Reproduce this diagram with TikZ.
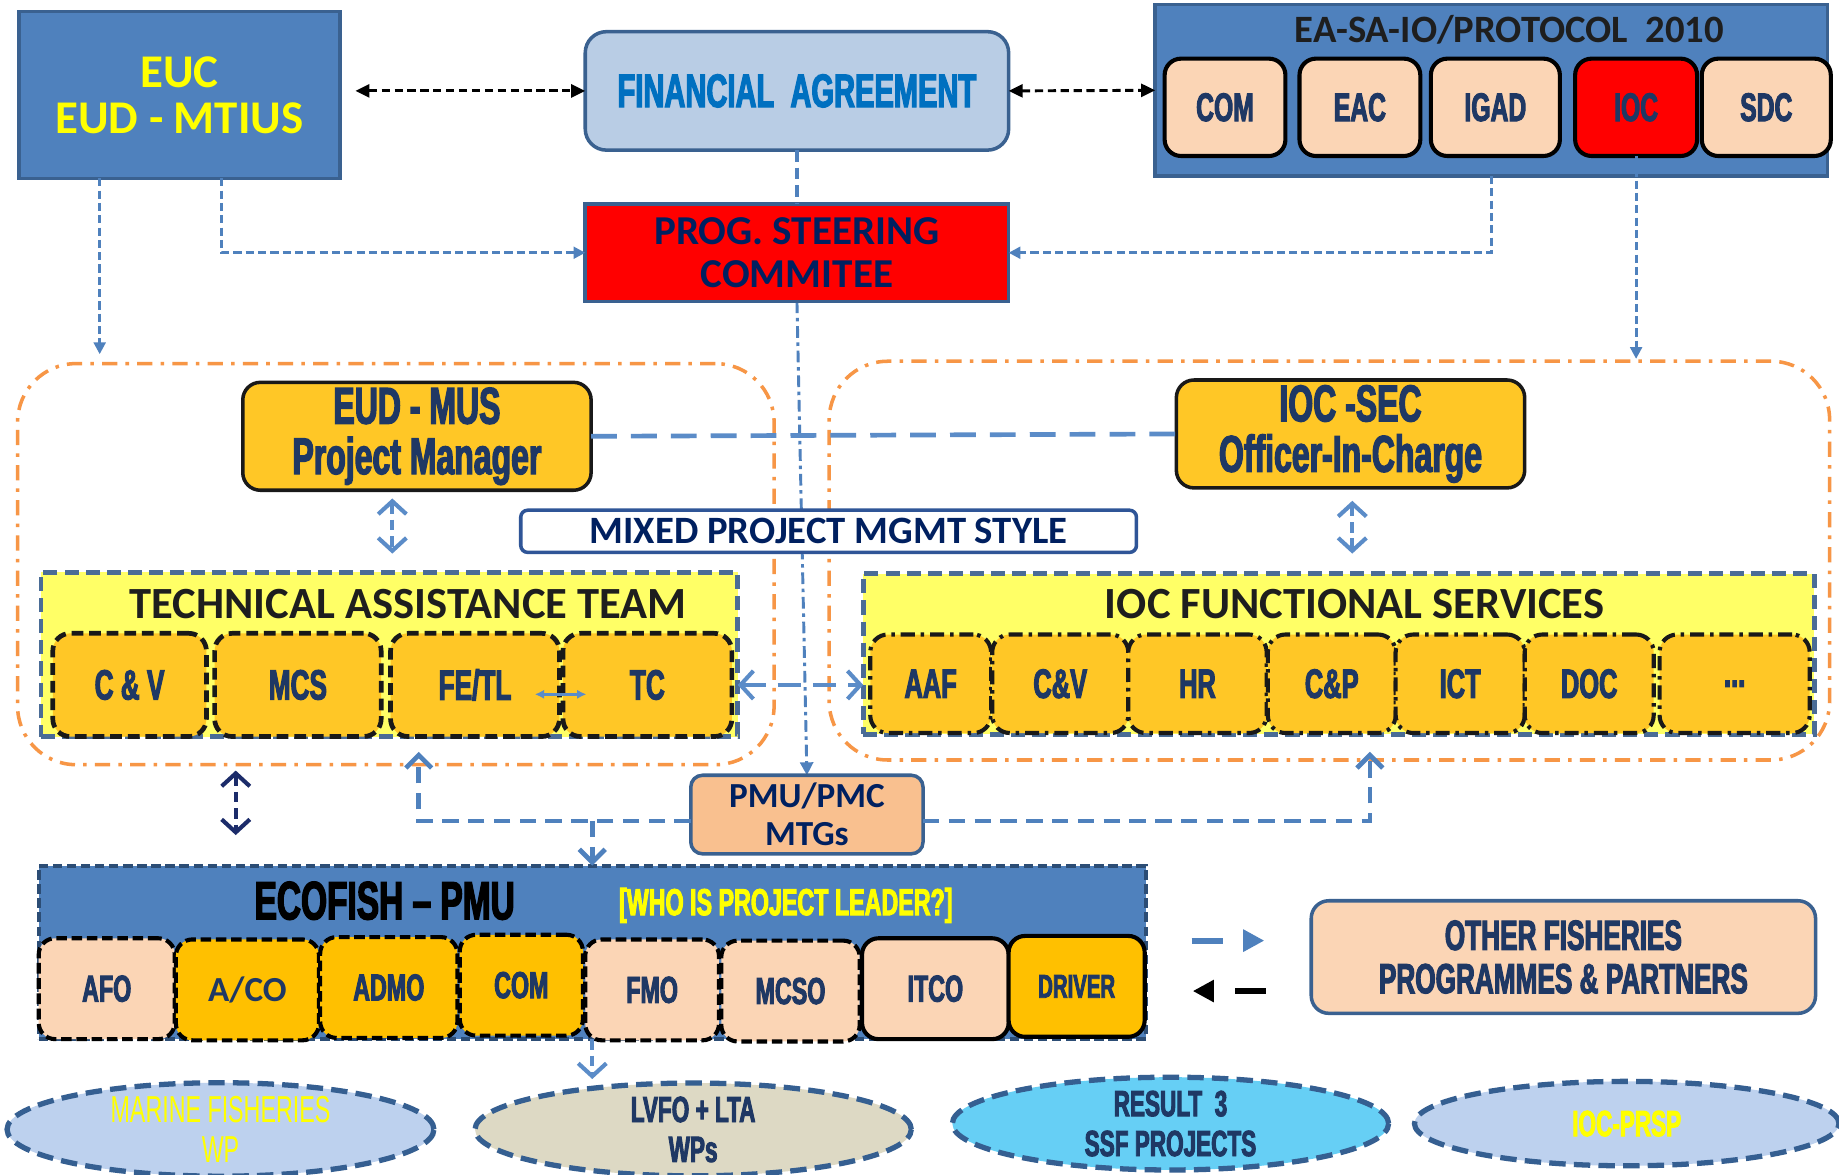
\documentclass[tikz,border=0pt]{standalone}
\usepackage{fontspec}
\usetikzlibrary{arrows.meta,calc,shapes.geometric}
\setmainfont{Carlito}
\newfontfamily\agf[FakeStretch=0.62,FakeBold=2.5,UprightFont={* Bold},Ligatures=TeX]{Liberation Sans}
\newfontfamily\agflight[FakeStretch=0.62,Ligatures=TeX]{Liberation Sans}
\newcommand\myfs[2]{\fontsize{#1}{#2}\selectfont}
\definecolor{boxblue}{HTML}{4F81BD}
\definecolor{bordblue}{HTML}{3A6190}
\definecolor{fafill}{HTML}{B9CDE5}
\definecolor{fatext}{HTML}{0070C0}
\definecolor{peach}{HTML}{FBD5B5}
\definecolor{gold}{HTML}{FFC726}
\definecolor{amber}{HTML}{FFC000}
\definecolor{lemon}{HTML}{FFFF66}
\definecolor{navy}{HTML}{1F3864}
\definecolor{dnavy}{HTML}{002060}
\definecolor{lineblue}{HTML}{4F81BD}
\definecolor{lightarr}{HTML}{5B8CC8}
\definecolor{orangedd}{HTML}{F79646}
\definecolor{pmcfill}{HTML}{F9C08F}
\definecolor{cyanfill}{HTML}{66CFF5}
\definecolor{beige}{HTML}{DDD9C4}
\definecolor{lblue}{HTML}{BDD1EE}
\definecolor{tatborder}{HTML}{4A6C96}
\definecolor{ellborder}{HTML}{355F91}
\definecolor{ecoborder}{HTML}{2C4D75}
\definecolor{mixborder}{HTML}{2F5597}
\definecolor{darkarr}{HTML}{1C2C6A}
\definecolor{yel}{HTML}{FFFF00}
\definecolor{titlegray}{HTML}{1E1E1E}
\pgfdeclarelayer{back}
\pgfdeclarelayer{mid}
\pgfsetlayers{back,mid,main}
\begin{document}
\begin{tikzpicture}[x=1pt,y=-1pt,
  every node/.style={inner sep=0pt, outer sep=0pt, align=center},
  ctext/.style 2 args={font=\agf\myfs{#1}{#2}},
  ltext/.style 2 args={font=\agflight\myfs{#1}{#2}},
  btext/.style 2 args={font=\bfseries\myfs{#1}{#2}},
  bluebox/.style={draw=bordblue, fill=boxblue, line width=3pt},
  fabox/.style={draw=bordblue, fill=fafill, line width=3pt, rounded corners=18pt},
  pscbox/.style={draw=bordblue, fill=red, line width=3pt},
  eainner/.style={draw=black, line width=3.5pt, rounded corners=14pt, minimum height=83pt, ctext={34}{34}, text=navy},
  goldbox/.style={draw=black!90, fill=gold, line width=3pt, rounded corners=15pt, minimum width=297pt, minimum height=92pt, ctext={44}{43}, text=navy},
  mixbox/.style={draw=mixborder, fill=white, line width=3pt, rounded corners=6pt},
  tatbox/.style={draw=tatborder, fill=lemon, line width=4pt, dash pattern=on 12pt off 6pt},
  tatinner/.style={draw=black!90, fill=gold, line width=4pt, dash pattern=on 10pt off 5pt, rounded corners=15pt, minimum height=88pt, ctext={36}{36}, text=navy},
  ifsinner/.style={draw=black!90, fill=gold, line width=3.5pt, dash pattern=on 12pt off 5pt on 3pt off 5pt, rounded corners=15pt, minimum height=84pt, ctext={35}{35}, text=navy},
  pmcbox/.style={draw=bordblue, fill=pmcfill, line width=3pt, rounded corners=10pt},
  ecobox/.style={draw=ecoborder, fill=boxblue, line width=3.5pt, dash pattern=on 8pt off 4pt},
  ecoinner/.style={draw=black, line width=3.5pt, dash pattern=on 9pt off 4pt, rounded corners=14pt, minimum height=86pt, ctext={32}{32}, text=navy},
  ecosolid/.style={draw=black, line width=3.5pt, rounded corners=14pt, minimum height=86pt, ctext={32}{32}, text=navy},
  ell/.style={ellipse, draw=ellborder, line width=4.5pt, dash pattern=on 14pt off 7pt, ctext={31}{34}},
  otherbox/.style={draw=bordblue, fill=peach, line width=3pt, rounded corners=15pt},
  cont/.style={draw=orangedd, line width=3pt, rounded corners=50pt, dash pattern=on 13pt off 7pt on 3pt off 7pt},
  blkarrow/.style={draw=black, line width=2.5pt, dash pattern=on 7pt off 4pt, <->, >={Triangle[length=12pt,width=11pt]}},
  thinline/.style={draw=lineblue, line width=2.4pt, dash pattern=on 7pt off 3.5pt},
  thinarr/.style={thinline, ->, >={Triangle[length=10pt,width=10pt]}},
  fathick/.style={draw=lineblue, line width=4pt, dash pattern=on 10pt off 5pt},
  mgline/.style={draw=lightarr, line width=4pt, dash pattern=on 22pt off 12pt},
  chev/.style={draw=lightarr, line width=3.5pt, dash pattern=on 9pt off 5pt, >={Straight Barb[length=11pt,width=24pt]}},
  navychev/.style={draw=darkarr, line width=3.5pt, dash pattern=on 9pt off 5pt, <->, >={Straight Barb[length=11pt,width=24pt]}},
  pmline/.style={draw=lineblue, line width=4pt, dash pattern=on 14pt off 8pt, >={Straight Barb[length=11pt,width=22pt]}},
  central/.style={draw=lineblue, line width=2.5pt, dash pattern=on 10pt off 4pt on 3pt off 4pt, ->, >={Triangle[length=11pt,width=11pt]}}
]
\useasboundingbox (0,0) rectangle (1568,1001);
\begin{pgfonlayer}{back}
  \fill[white] (0,0) rectangle (1568,1001);
  \node[cont, minimum width=645pt, minimum height=342pt] (lcont) at (337.5,481) {};
  \node[cont, minimum width=853pt, minimum height=340pt] (rcont) at (1133.5,478) {};
\end{pgfonlayer}

% top row
\node[bluebox, minimum width=274pt, minimum height=142pt, btext={40}{39}, text=yel] (euc) at (153,81) {EUC\\EUD - MTIUS};
\node[fabox, minimum width=361pt, minimum height=101pt, ctext={40}{40}, text=fatext] (fa) at (679.5,77.5) {FINANCIAL\ \ AGREEMENT};
\node[pscbox, minimum width=361pt, minimum height=83pt, btext={35}{36}, text=dnavy] (psc) at (679.5,215.5) {PROG. STEERING\\COMMITEE};
\node[bluebox, minimum width=573pt, minimum height=146pt] (easa) at (1271.5,77) {};
\node[btext={33}{33}, text=titlegray] (eat) at (1287,25) {EA-SA-IO/PROTOCOL\ \ 2010};
\node[eainner, fill=peach, minimum width=103pt] (com1) at (1044.5,91.5) {COM};
\node[eainner, fill=peach, minimum width=103pt] (eac) at (1159.5,91.5) {EAC};
\node[eainner, fill=peach, minimum width=110pt] (igad) at (1275,91.5) {IGAD};
\node[eainner, fill=red, minimum width=104pt] (ioc) at (1395,91.5) {IOC};
\node[eainner, fill=peach, minimum width=110pt] (sdc) at (1506,91.5) {SDC};

% managers
\node[goldbox] (eudmus) at (355.5,372) {EUD - MUS\\Project Manager};
\node[goldbox] (iocsec) at (1151.5,370) {IOC -SEC\\Officer-In-Charge};
\node[mixbox, minimum width=525pt, minimum height=36pt, btext={33}{33}, text=dnavy] (mixed) at (706.5,453) {MIXED PROJECT MGMT STYLE};

% technical assistance team
\node[tatbox, minimum width=594pt, minimum height=140pt] (tat) at (332,558) {};
\node[btext={38}{38}, text=titlegray] (tatt) at (348,515) {TECHNICAL ASSISTANCE TEAM};
\node[tatinner, minimum width=131pt] (cv) at (110.5,584) {C \& V};
\node[tatinner, minimum width=142pt] (mcs) at (254,584) {MCS};
\node[tatinner, minimum width=144pt] (fetl) at (405,584) {FE/TL};
\node[tatinner, minimum width=144pt] (tc) at (552,584) {TC};

% IOC functional services
\node[tatbox, minimum width=811pt, minimum height=137pt] (ifs) at (1141.5,557.5) {};
\node[btext={38}{38}, text=titlegray] (ifst) at (1155,515) {IOC FUNCTIONAL SERVICES};
\node[ifsinner, minimum width=103pt] (aaf) at (793.5,583) {AAF};
\node[ifsinner, minimum width=116pt] (cv2) at (904,583) {C\&V};
\node[ifsinner, minimum width=118pt] (hr) at (1021,583) {HR};
\node[ifsinner, minimum width=109pt] (cp) at (1135.5,583) {C\&P};
\node[ifsinner, minimum width=110pt] (ict) at (1245,583) {ICT};
\node[ifsinner, minimum width=110pt] (doc) at (1355,583) {DOC};
\node[ifsinner, minimum width=128pt] (more) at (1479,583) {...};

% PMU / PMC meetings
\node[pmcbox, minimum width=198pt, minimum height=67pt, btext={30}{32}, text=dnavy] (pmc) at (688,694.5) {PMU/PMC\\MTGs};

% ECOFISH PMU
\node[ecobox, minimum width=944pt, minimum height=148pt] (eco) at (505,812) {};
\node[ctext={46}{46}, text=black] (ecot) at (328,768) {ECOFISH – PMU};
\node[ctext={32}{32}, text=yel] (who) at (670,772) {[WHO IS PROJECT LEADER?]};
\node[ecoinner, fill=peach, minimum width=116pt] (afo) at (91,843) {AFO};
\node[ecoinner, fill=amber, minimum width=122pt, btext={30}{30}] (aco) at (211,844) {A/CO};
\node[ecoinner, fill=amber, minimum width=117pt] (admo) at (331.5,842) {ADMO};
\node[ecoinner, fill=amber, minimum width=105pt] (com2) at (444.5,840) {COM};
\node[ecoinner, fill=peach, minimum width=114pt] (fmo) at (556,844) {FMO};
\node[ecoinner, fill=peach, minimum width=118pt] (mcso) at (674,845) {MCSO};
\node[ecosolid, fill=peach, minimum width=125pt] (itco) at (797.5,843) {ITCO};
\node[ecosolid, fill=amber, minimum width=116pt, ctext={28}{28}] (driver) at (918,841) {DRIVER};

% other programmes
\node[otherbox, minimum width=430pt, minimum height=96pt, ctext={36}{37}, text=navy] (other) at (1333,816) {OTHER FISHERIES\\PROGRAMMES \& PARTNERS};

% ellipses
\node[ell, fill=lblue, minimum width=364pt, minimum height=70pt, ltext={32}{34}, text=yel] (ell1) at (188,963) {MARINE FISHERIES\\WP};
\node[ell, fill=beige, minimum width=372pt, minimum height=72pt, text=navy] (ell2) at (591,963) {LVFO + LTA\\WPs};
\node[ell, fill=cyanfill, minimum width=372pt, minimum height=72pt, text=navy] (ell3) at (998,958) {RESULT\ \ 3\\SSF PROJECTS};
\node[ell, fill=lblue, minimum width=362pt, minimum height=72pt, text=yel] (ell4) at (1387,958) {IOC-PRSP};

% coordinates for free ends
\coordinate (tatup) at (357,641);
\coordinate (ifsup) at (1168,641);
\coordinate (nv1) at (201,657);
\coordinate (nv2) at (201,712);
\coordinate (pmy) at ([yshift=-5.5pt]pmc.west);
\coordinate (lgba) at (1016,802);
\coordinate (lgbb) at (1078,802);
\coordinate (lgka) at (1079,845);
\coordinate (lgkb) at (1017,845);

% central line (behind the mixed box)
\begin{pgfonlayer}{mid}
  \draw[central] (psc.south) -- (pmc.north);
\end{pgfonlayer}

% connectors
\draw[blkarrow] ($(euc.east |- fa.west)+(13,0)$) -- (fa.west);
\draw[blkarrow] (fa.east) -- (easa.west);
\draw[fathick] (fa.south) -- (psc.north);
\draw[thinarr] ([xshift=-68pt]euc.south) -- ++(0,150);
\draw[thinarr] ([xshift=36pt]euc.south) |- (psc.west);
\draw[thinarr] (easa.south) |- (psc.east);
\draw[thinarr, shorten >=2pt] (ioc.south) -- (ioc.south |- rcont.north);
\draw[mgline] (eudmus.east) -- (iocsec.west);
\draw[chev, <->] ([xshift=-21pt,yshift=-7pt]eudmus.south) -- ++(0,47);
\draw[chev, <->] ([xshift=1.5pt,yshift=-11pt]iocsec.south) -- ++(0,45);
\draw[chev, <->, dash pattern=on 20pt off 10pt] (tat.east |- tc.east) -- (ifs.west |- tc.east);
\draw[draw=lightarr, line width=2.5pt, <->, >={Latex[length=8pt,width=8pt]}] ([xshift=-21pt,yshift=-8pt]fetl.east) -- ([xshift=23pt,yshift=-8pt]fetl.east);
\draw[pmline, ->] (pmy) -| (tatup);
\draw[pmline, ->] (eco.north |- pmy) -- (eco.north);
\draw[pmline, ->] ([yshift=-5.5pt]pmc.east) -| (ifsup);
\draw[navychev] (nv1) -- (nv2);
\draw[chev, ->] (eco.south) -- ++(0,34);
\draw[draw=lineblue, line width=5pt, dash pattern=on 27pt off 100pt, -{Triangle[length=18pt,width=18pt]}] (lgba) -- (lgbb);
\draw[draw=black, line width=5pt, dash pattern=on 26pt off 100pt, -{Triangle[length=18pt,width=18pt]}] (lgka) -- (lgkb);
\end{tikzpicture}
\end{document}
